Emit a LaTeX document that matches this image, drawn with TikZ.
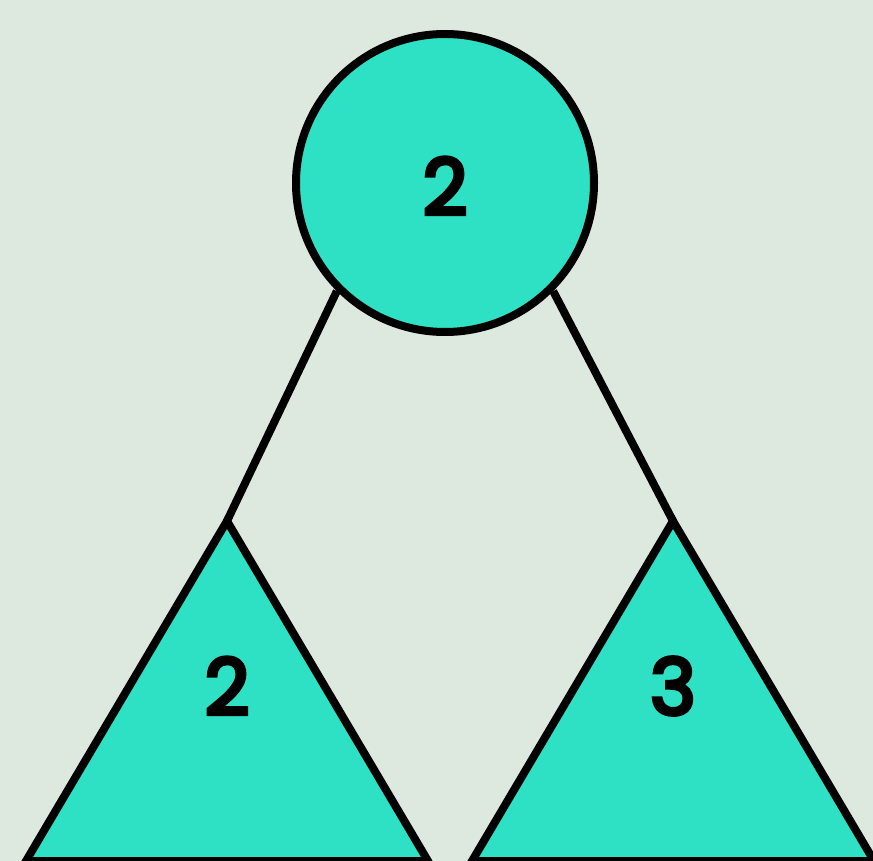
\documentclass[tikz,border=0pt]{standalone}
\usepackage{fontspec}
\setmainfont{Poppins}
\newfontfamily\numfont{Poppins}[FakeBold=5]
\definecolor{bgcol}{HTML}{DDE8DF}
\definecolor{treefill}{HTML}{2EE0C4}
\begin{document}
\begin{tikzpicture}[
  x=1pt, y=-1pt,
  rootnode/.style={circle, draw, line width=8pt, fill=treefill, minimum size=298pt, inner sep=0pt},
  subtree/.style={draw, line width=8pt, fill=treefill, line join=miter},
  label/.style={font=\numfont\fontsize{78}{80}\selectfont, inner sep=0pt},
  edge/.style={line width=8pt}
]
\fill[bgcol] (0,0) rectangle (873,861);
\useasboundingbox (0,0) rectangle (873,861);

\node[rootnode] (root) at (445,183) {};
\node[label] (rootlabel) at (445,186) {2};

\coordinate (lapex) at (227,521);
\coordinate (rapex) at (673,521);

\draw[edge] (root.south west) -- (lapex);
\draw[edge] (root.south east) -- (rapex);

\filldraw[subtree] (lapex) -- (26,861) -- (428,861) -- cycle;
\filldraw[subtree] (rapex) -- (472,861) -- (874,861) -- cycle;

\node[label] (leftlabel) at (227,686) {2};
\node[label] (rightlabel) at (673,686) {3};
\end{tikzpicture}
\end{document}
